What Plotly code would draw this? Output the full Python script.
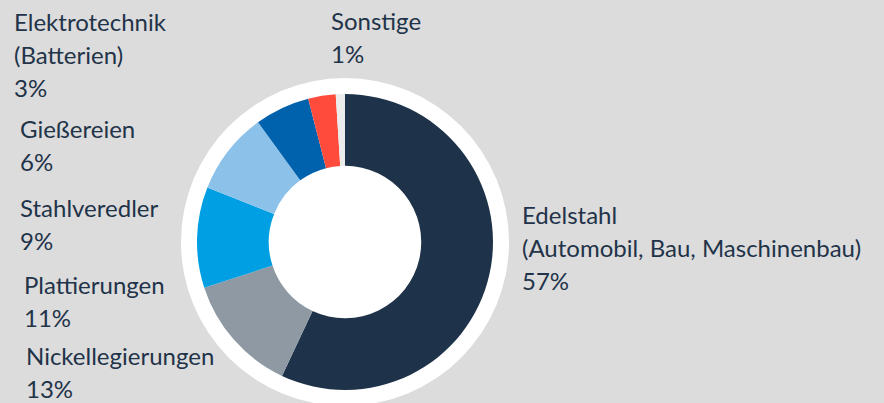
import plotly.graph_objects as go

# ---- data ----
categories = ["Edelstahl (Automobil, Bau, Maschinenbau)", "Nickellegierungen", "Plattierungen",
              "Stahlveredler", "Gießereien", "Elektrotechnik (Batterien)", "Sonstige"]
label_lines = [["Edelstahl", "(Automobil, Bau, Maschinenbau)"], ["Nickellegierungen"], ["Plattierungen"],
               ["Stahlveredler"], ["Gießereien"], ["Elektrotechnik", "(Batterien)"], ["Sonstige"]]
shares = [57, 13, 11, 9, 6, 3, 1]
colors = ["#1e3349", "#8e99a4", "#009fe3", "#8cc2ea", "#0061ac", "#ff4b3c", "#ececec"]

# ---- layout helpers (pixel positions of label blocks: left x, first line center y) ----
W, H = 884, 403
label_pos = [(520, 214), (24, 355), (22, 284), (18, 207), (18, 128), (12, 21), (329, 20)]
pitch = 33
txt_color = "#1f3349"
font_family = "Lato, Carlito, sans-serif"
font_size = 24

cx, cy, r = 345, 242, 148
r_white = 164

fig = go.Figure()
fig.add_trace(go.Pie(
    labels=categories, values=shares, sort=False, direction="clockwise", rotation=0,
    hole=0.515, textinfo="none", hoverinfo="label+percent",
    marker=dict(colors=colors, line=dict(width=0)),
    domain=dict(x=[(cx - r) / W, (cx + r) / W], y=[(H - (cy + r)) / H, (H - (cy - r)) / H]),
    showlegend=False,
))

annotations = []
for lines, share, (px, py) in zip(label_lines, shares, label_pos):
    all_lines = lines + [f"{share}%"]
    for i, t in enumerate(all_lines):
        yy = py + i * pitch
        annotations.append(dict(
            text=t, x=px / W, y=(H - yy) / H, xref="paper", yref="paper",
            xanchor="left", yanchor="middle", showarrow=False,
            font=dict(family=font_family, size=font_size, color=txt_color),
        ))

fig.update_layout(
    width=W, height=H, margin=dict(l=0, r=0, t=0, b=0),
    paper_bgcolor="#dcdcdc", plot_bgcolor="#dcdcdc",
    annotations=annotations,
    shapes=[dict(type="circle", xref="paper", yref="paper", layer="below",
                 x0=(cx - r_white) / W, x1=(cx + r_white) / W,
                 y0=(H - (cy + r_white)) / H, y1=(H - (cy - r_white)) / H,
                 fillcolor="#ffffff", line=dict(width=0))],
)

fig.write_html("out.html", config={"displayModeBar": False},
               post_script="document.body.style.margin='0';document.body.style.overflow='hidden';")
